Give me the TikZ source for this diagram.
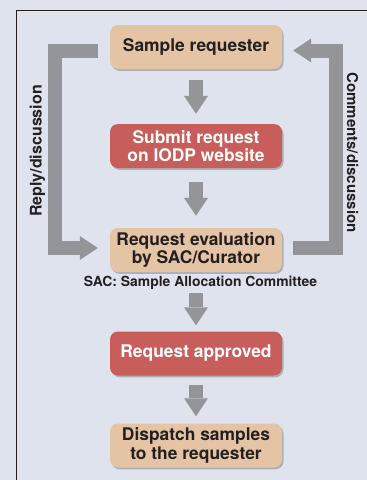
\documentclass[tikz,border=0pt]{standalone}
\usepackage{fontspec}
\setmainfont{TeX Gyre Heros}
\usetikzlibrary{arrows.meta,shadows}
\definecolor{bgblue}{RGB}{223,227,238}
\definecolor{boxtan}{RGB}{228,196,165}
\definecolor{boxred}{RGB}{200,94,92}
\definecolor{agrey}{RGB}{148,149,152}
\definecolor{ink}{RGB}{35,31,32}
\begin{document}
\begin{tikzpicture}[x=1pt,y=-1pt,
  box/.style={rounded corners=8pt, minimum width=172pt, minimum height=44pt, inner sep=0pt,
    align=center, font=\fontsize{17.4}{18.5}\selectfont\bfseries,
    drop shadow={shadow xshift=1.5pt,shadow yshift=-1.8pt,opacity=0.45,fill=black!55}},
  tanbox/.style={box, fill=boxtan, text=ink},
  redbox/.style={box, fill=boxred, text=white},
  bigarrow/.style={draw=agrey, line width=14pt,
    -{Triangle[width=24pt 0 0,length=18pt 0 0,line width=0pt]}},
  sidelabel/.style={text=ink, inner sep=0pt}
]
\useasboundingbox (0,0) rectangle (367,480);
\fill[bgblue] (0,0) rectangle (367,480);
\draw[ink, line width=1.5pt] (16.5,480) -- (16.5,10.5) -- (367,10.5);

\node[tanbox] (req) at (196,47) {Sample requester};
\node[redbox] (sub) at (196,146) {Submit request\\on IODP website};
\node[tanbox] (eval) at (196,250) {Request evaluation\\by SAC/Curator};
\node[text=ink, inner sep=0pt, font=\fontsize{13.9}{14}\selectfont\bfseries] (sac) at (200.5,282.5) {SAC: Sample Allocation Committee};
\node[redbox] (appr) at (196,353.5) {Request approved};
\node[tanbox] (disp) at (196,445.5) {Dispatch samples\\to the requester};

\draw[bigarrow] ([yshift=-11pt]req.south) -- ([yshift=10pt]sub.north);
\draw[bigarrow] ([yshift=-14pt]sub.south) -- ([yshift=12pt]eval.north);
\draw[bigarrow] ([yshift=-21pt]eval.south) -- ([yshift=6pt]appr.north);
\draw[bigarrow] ([yshift=-9pt]appr.south) -- ([yshift=7pt]disp.north);

\draw[bigarrow] ([xshift=-12pt,yshift=-3.5pt]req.west) -- ++(-43,0) |- ([xshift=-12pt,yshift=2pt]eval.west);
\draw[bigarrow] ([xshift=11pt,yshift=2pt]eval.east) -- ++(43,0) |- ([xshift=11pt,yshift=-3.5pt]req.east);

\node[sidelabel, rotate=90, font=\fontsize{16}{16}\selectfont\bfseries] (reply) at (37.5,151) {Reply/discussion};
\node[sidelabel, rotate=-90, font=\fontsize{15}{15}\selectfont\bfseries] (comm) at (352.5,152.5) {Comments/discussion};
\end{tikzpicture}
\end{document}
